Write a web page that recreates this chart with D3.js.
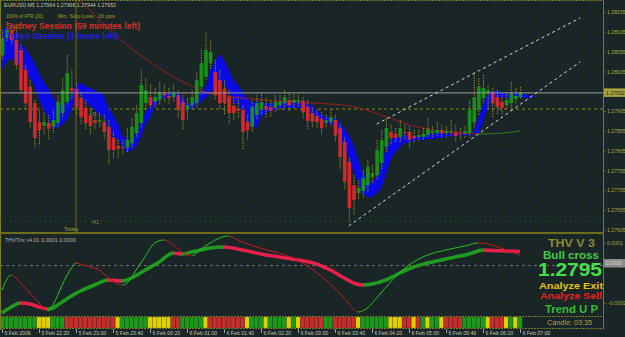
<!DOCTYPE html>
<html>
<head>
<meta charset="utf-8">
<script src="https://cdn.jsdelivr.net/npm/d3@7"></script>
<style>
  html, body { margin: 0; padding: 0; background: #1a2525; overflow: hidden; }
  svg { display: block; }
  text { font-family: "Liberation Sans", Arial, sans-serif; }
</style>
</head>
<body>
<script>
// EURUSD M5 candles, bar 0 = 5 Feb 21:40, bar 112 = 6 Feb 07:00
var opens = [1.28046,1.28089,1.28110,1.28084,1.28059,1.28009,1.27966,1.27925,1.27877,1.27867,
  1.27875,1.27865,1.27875,1.27900,1.27928,1.27963,1.27961,1.27938,1.27913,1.27895,
  1.27882,1.27877,1.27877,1.27865,1.27837,1.27817,1.27814,1.27812,1.27824,1.27849,
  1.27875,1.27925,1.27940,1.27928,1.27933,1.27950,1.27943,1.27940,1.27945,1.27928,
  1.27908,1.27920,1.27925,1.27966,1.27991,1.28026,1.28003,1.27983,1.27961,1.27940,
  1.27918,1.27910,1.27908,1.27877,1.27865,1.27895,1.27908,1.27918,1.27915,1.27913,
  1.27920,1.27925,1.27933,1.27925,1.27928,1.27930,1.27915,1.27900,1.27892,1.27885,
  1.27875,1.27877,1.27882,1.27862,1.27827,1.27776,1.27718,1.27698,1.27703,1.27718,
  1.27738,1.27743,1.27774,1.27814,1.27852,1.27847,1.27839,1.27852,1.27852,1.27842,
  1.27839,1.27839,1.27844,1.27849,1.27849,1.27857,1.27849,1.27852,1.27852,1.27849,
  1.27849,1.27849,1.27877,1.27908,1.27938,1.27950,1.27953,1.27940,1.27928,1.27920,
  1.27925,1.27935,1.27940];
var highs = [1.28110,1.28130,1.28122,1.28122,1.28072,1.28021,1.27983,1.27933,1.27908,1.27902,
  1.27895,1.27908,1.27945,1.27988,1.28046,1.28009,1.27978,1.27953,1.27933,1.27913,
  1.27902,1.27900,1.27895,1.27882,1.27852,1.27832,1.27832,1.27862,1.27887,1.27920,
  1.28009,1.27988,1.27971,1.27963,1.27978,1.27971,1.27963,1.27971,1.27958,1.27945,
  1.27938,1.27958,1.28003,1.28059,1.28102,1.28084,1.28034,1.28009,1.27983,1.27958,
  1.27938,1.27933,1.27920,1.27895,1.27933,1.27945,1.27953,1.27938,1.27933,1.27945,
  1.27945,1.27958,1.27953,1.27948,1.27945,1.27940,1.27933,1.27913,1.27908,1.27902,
  1.27895,1.27908,1.27895,1.27872,1.27837,1.27786,1.27743,1.27731,1.27756,1.27781,
  1.27769,1.27832,1.27857,1.27887,1.27870,1.27862,1.27882,1.27870,1.27867,1.27857,
  1.27857,1.27862,1.27887,1.27867,1.27877,1.27870,1.27867,1.27882,1.27870,1.27862,
  1.27867,1.27933,1.28003,1.27988,1.27996,1.27971,1.27963,1.27958,1.27945,1.27953,
  1.27978,1.27963,1.27966];
var lows = [1.28034,1.28079,1.28072,1.28009,1.27945,1.27908,1.27862,1.27812,1.27819,1.27844,
  1.27832,1.27849,1.27862,1.27887,1.27918,1.27933,1.27895,1.27870,1.27857,1.27844,
  1.27857,1.27862,1.27832,1.27769,1.27786,1.27786,1.27794,1.27801,1.27812,1.27837,
  1.27862,1.27908,1.27908,1.27913,1.27920,1.27928,1.27923,1.27928,1.27887,1.27857,
  1.27882,1.27908,1.27913,1.27953,1.27983,1.28009,1.27933,1.27908,1.27895,1.27870,
  1.27882,1.27887,1.27807,1.27832,1.27852,1.27882,1.27895,1.27887,1.27890,1.27900,
  1.27908,1.27913,1.27902,1.27913,1.27915,1.27887,1.27857,1.27862,1.27862,1.27844,
  1.27862,1.27867,1.27827,1.27756,1.27706,1.27625,1.27642,1.27680,1.27685,1.27700,
  1.27723,1.27731,1.27756,1.27801,1.27819,1.27827,1.27827,1.27832,1.27812,1.27824,
  1.27829,1.27832,1.27837,1.27839,1.27842,1.27837,1.27839,1.27842,1.27827,1.27832,
  1.27837,1.27837,1.27862,1.27895,1.27925,1.27908,1.27887,1.27895,1.27895,1.27908,
  1.27913,1.27923,1.27936];
var closes = [1.28089,1.28110,1.28084,1.28021,1.27958,1.27925,1.27877,1.27837,1.27857,1.27877,
  1.27860,1.27882,1.27928,1.27958,1.28001,1.27956,1.27913,1.27890,1.27875,1.27867,
  1.27875,1.27882,1.27852,1.27807,1.27807,1.27809,1.27812,1.27832,1.27865,1.27900,
  1.27971,1.27958,1.27920,1.27940,1.27953,1.27945,1.27938,1.27950,1.27908,1.27882,
  1.27920,1.27940,1.27983,1.28026,1.28059,1.28054,1.27945,1.27925,1.27925,1.27900,
  1.27900,1.27905,1.27852,1.27857,1.27915,1.27925,1.27928,1.27908,1.27905,1.27928,
  1.27928,1.27940,1.27920,1.27933,1.27933,1.27902,1.27880,1.27877,1.27877,1.27862,
  1.27882,1.27890,1.27844,1.27789,1.27726,1.27660,1.27680,1.27711,1.27736,1.27764,
  1.27748,1.27807,1.27832,1.27862,1.27837,1.27837,1.27862,1.27849,1.27832,1.27837,
  1.27844,1.27847,1.27860,1.27855,1.27857,1.27849,1.27855,1.27855,1.27842,1.27847,
  1.27855,1.27908,1.27940,1.27966,1.27963,1.27958,1.27925,1.27915,1.27913,1.27933,
  1.27950,1.27943,1.27952];

// blue ribbon (shifted 3 bars forward)
var bandUpper = [1.28110,1.28115,1.28105,1.28084,1.28072,1.28064,1.28046,1.28029,1.28001,1.27978,
  1.27963,1.27940,1.27920,1.27920,1.27925,1.27945,1.27973,1.27976,1.27968,1.27963,
  1.27958,1.27953,1.27945,1.27913,1.27895,1.27875,1.27844,1.27832,1.27837,1.27849,
  1.27875,1.27902,1.27920,1.27940,1.27945,1.27948,1.27950,1.27953,1.27953,1.27940,
  1.27923,1.27923,1.27933,1.27953,1.27963,1.28009,1.28029,1.28049,1.28034,1.28009,
  1.27983,1.27971,1.27953,1.27938,1.27928,1.27928,1.27928,1.27925,1.27925,1.27925,
  1.27928,1.27930,1.27933,1.27933,1.27930,1.27928,1.27923,1.27918,1.27908,1.27897,
  1.27890,1.27890,1.27887,1.27877,1.27862,1.27844,1.27819,1.27781,1.27751,1.27726,
  1.27726,1.27738,1.27764,1.27812,1.27832,1.27839,1.27844,1.27844,1.27844,1.27842,
  1.27842,1.27844,1.27847,1.27849,1.27849,1.27849,1.27849,1.27849,1.27849,1.27849,
  1.27849,1.27849,1.27852,1.27887,1.27920,1.27948,1.27956,1.27956,1.27953,1.27950,
  1.27950,1.27950,1.27950,1.27948,1.27945,1.27943];
var bandLower = [1.28009,1.28029,1.28039,1.28029,1.28019,1.28009,1.27988,1.27968,1.27933,1.27908,
  1.27887,1.27862,1.27862,1.27870,1.27882,1.27908,1.27953,1.27945,1.27928,1.27918,
  1.27908,1.27897,1.27887,1.27862,1.27844,1.27832,1.27814,1.27801,1.27807,1.27814,
  1.27839,1.27872,1.27887,1.27915,1.27933,1.27938,1.27940,1.27940,1.27935,1.27915,
  1.27908,1.27910,1.27918,1.27928,1.27938,1.27950,1.27963,1.27983,1.27971,1.27958,
  1.27928,1.27920,1.27902,1.27877,1.27865,1.27862,1.27890,1.27900,1.27905,1.27908,
  1.27913,1.27913,1.27913,1.27913,1.27913,1.27913,1.27905,1.27900,1.27890,1.27880,
  1.27875,1.27872,1.27865,1.27842,1.27812,1.27786,1.27751,1.27723,1.27698,1.27688,
  1.27688,1.27698,1.27711,1.27743,1.27781,1.27801,1.27814,1.27824,1.27827,1.27829,
  1.27832,1.27832,1.27834,1.27834,1.27837,1.27837,1.27839,1.27842,1.27842,1.27844,
  1.27844,1.27844,1.27847,1.27849,1.27877,1.27913,1.27935,1.27940,1.27940,1.27938,
  1.27935,1.27935,1.27938,1.27938,1.27938,1.27938];

// slow moving average, read at a few bars
var maBars = [15,18,22,26,32,36,40,44,52,60,64,70,74,78,82,84,88,92,96,100,103,108,112];
var maValues = [1.28198,1.28170,1.28125,1.28082,1.28029,1.27998,1.27973,1.27953,1.27938,1.27930,
  1.27928,1.27923,1.27920,1.27910,1.27895,1.27887,1.27870,1.27860,1.27852,1.27849,1.27847,1.27849,1.27855];
var maTurnBar = 103;

var currentPrice = 1.27952;
var dashLevel = 1.27910;
var lowLevel = 1.27627;
var todayBar = 16;

var trendStartBars = [75, 81];
var trendStartPrices = [1.27615, 1.27872];
var trendEndBars = [125, 125];
var trendEndPrices = [1.28029, 1.28140];

var priceTicks = [1.28155,1.28105,1.28055,1.28005,1.27905,1.27855,1.27805,1.27755,1.27705,1.27655,1.27605];
var timeTickBars = [0,8,16,24,32,40,48,56,64,72,80,88,96,104,112];
var timeLabels = ["5 Feb 2009","5 Feb 22:20","5 Feb 23:00","5 Feb 23:40","6 Feb 00:20","6 Feb 01:00",
  "6 Feb 01:40","6 Feb 02:20","6 Feb 03:00","6 Feb 03:40","6 Feb 04:20","6 Feb 05:00",
  "6 Feb 05:40","6 Feb 06:20","6 Feb 07:00"];

// THVTrix sub window
var thinBars = [0,2,4,6,8,10,11,13,15,16,17,19,21,23,26,27,29,31,33,35,37,40,41,43,45,47,49,51,55,59,
  63,66,70,74,77,79,81,84,88,92,96,100,103,106,109,112];
var thinValues = [-0.000135,-0.00006,-0.0001,-0.00015,-0.0002,-0.00024,-0.00021,-0.00011,-0.000025,0,
  -0.000005,-0.00002,-0.000035,-0.000075,-0.00011,-0.0001,-0.000035,0.000035,0.0001,0.000115,
  0.00009,0.00004,0.000035,0.00007,0.0001,0.000125,0.000135,0.000115,0.00008,0.000055,
  0.000025,-0.000015,-0.000085,-0.000175,-0.000245,-0.000225,-0.000175,-0.000095,-0.00001,0.00004,
  0.000065,0.000085,0.0001,0.00009,0.000065,0.00004];
var thickBars = [0,2,4,6,8,10,11,13,15,17,20,23,26,28,31,34,37,39,41,43,45,48,52,56,60,64,68,71,74,76,
  78,80,83,86,89,92,95,98,101,104,106,109,112];
var thickValues = [-0.00025,-0.00022,-0.0002,-0.000205,-0.00022,-0.00023,-0.000225,-0.000195,-0.000165,-0.00014,
  -0.00011,-0.000085,-0.00009,-0.000075,-0.000035,0.000005,0.00005,0.000045,0.000055,0.000065,
  0.000075,0.00008,0.000065,0.000045,0.00003,0.000015,-0.000005,-0.000035,-0.000075,-0.0001,
  -0.00011,-0.000105,-0.000085,-0.00005,-0.00002,0,0.000015,0.00003,0.000045,0.000065,
  0.0000625,0.00006,0.0000575];
var subTicks = [0.0001, -0.0002];
var subCurrent = 0;

// trend colour bar, one letter per bar
var barColors = ("GGGGGGGG" + "YYY" + "GGG" + "RRRRRRRRRRR" + "Y" + "GGGGGG" + "YYYYY" + "RR" + "GGGGG" + "Y" +
  "RRRRRRRR" + "Y" + "GGG" + "Y" + "GGGG" + "Y" + "G" + "Y" + "RRRRR" + "GG" + "RRRRR" + "Y" + "GGGGGG" +
  "YYY" + "RR" + "Y" + "R" + "G" + "Y" + "GG" + "Y" + "RRRR" + "GGGGG" + "Y" + "RRR" + "Y" + "G" + "Y" + "G").split("");

var width = 625, height = 337, axisX = 603;
var olive = "#7a7a18";

var x = d3.scaleLinear().domain([0, 112]).range([2, 520]);
var y = d3.scaleLinear().domain([1.27605, 1.28155]).range([229.8, 12]);
var ySub = d3.scaleLinear().domain([-0.00025, 0.00015]).range([313, 233]);

var svg = d3.select("body").append("svg")
    .attr("width", width)
    .attr("height", height);
var defs = svg.append("defs");

defs.append("clipPath").attr("id", "clipMain").append("rect")
    .attr("x", 0).attr("y", 0).attr("width", axisX).attr("height", 232);
defs.append("clipPath").attr("id", "clipSub").append("rect")
    .attr("x", 0).attr("y", 234).attr("width", axisX).attr("height", 81);

var pat = defs.append("pattern").attr("id", "dots")
    .attr("patternUnits", "userSpaceOnUse").attr("width", 29).attr("height", 21);
[[3,4],[17,2],[25,11],[10,12],[20,18],[6,19]].forEach(function(p) {
    pat.append("rect").attr("x", p[0]).attr("y", p[1]).attr("width", 1).attr("height", 1).attr("fill", "#18196e");
});

function slopeGradient(id, bars, vals, up, down) {
    var g = defs.append("linearGradient").attr("id", id)
        .attr("gradientUnits", "userSpaceOnUse")
        .attr("x1", 0).attr("x2", width).attr("y1", 0).attr("y2", 0);
    for (var i = 0; i < bars.length - 1; i++) {
        var c = vals[i + 1] >= vals[i] ? up : down;
        g.append("stop").attr("offset", x(bars[i]) / width).attr("stop-color", c);
        g.append("stop").attr("offset", x(bars[i + 1]) / width).attr("stop-color", c);
    }
}
slopeGradient("gThick", thickBars, thickValues, "#1f9b1f", "#e8204c");
slopeGradient("gThin", thinBars, thinValues, "#22c422", "#c8181c");

var gMa = defs.append("linearGradient").attr("id", "gMa")
    .attr("gradientUnits", "userSpaceOnUse")
    .attr("x1", 0).attr("x2", width).attr("y1", 0).attr("y2", 0);
gMa.append("stop").attr("offset", x(maTurnBar) / width).attr("stop-color", "#9a1c1c");
gMa.append("stop").attr("offset", x(maTurnBar) / width).attr("stop-color", "#2a7e2a");

// background
svg.append("rect").attr("width", width).attr("height", height).attr("fill", "#1a2525");
svg.append("rect").attr("width", width).attr("height", 330).attr("fill", "url(#dots)");

// ---------- main window ----------
var main = svg.append("g").attr("clip-path", "url(#clipMain)");

main.append("line")
    .attr("x1", 0).attr("x2", axisX)
    .attr("y1", y(dashLevel)).attr("y2", y(dashLevel))
    .attr("stroke", "#8a8a22").attr("stroke-dasharray", "3,3");
main.append("line")
    .attr("x1", 0).attr("x2", axisX)
    .attr("y1", y(lowLevel)).attr("y2", y(lowLevel))
    .attr("stroke", "#1f6a1f").attr("stroke-dasharray", "1,4");
main.append("line")
    .attr("x1", x(todayBar)).attr("x2", x(todayBar))
    .attr("y1", 0).attr("y2", 232)
    .attr("stroke", "#6e6e16");

var band = d3.area()
    .x(function(d, i) { return x(i); })
    .y0(function(d, i) { return y(bandLower[i]); })
    .y1(function(d) { return y(d); });
main.append("path").datum(bandUpper)
    .attr("d", band)
    .attr("fill", "#0a0ae4");

var maLine = d3.line()
    .x(function(d, i) { return x(maBars[i]); })
    .y(function(d) { return y(d); })
    .curve(d3.curveMonotoneX);
main.append("path").datum(maValues)
    .attr("d", maLine)
    .attr("fill", "none")
    .attr("stroke", "url(#gMa)")
    .attr("stroke-width", 1);

var idx = d3.range(opens.length);
main.selectAll(".wick").data(idx).enter().append("line")
    .attr("class", "wick")
    .attr("x1", function(i) { return x(i) + 0.5; })
    .attr("x2", function(i) { return x(i) + 0.5; })
    .attr("y1", function(i) { return y(highs[i]); })
    .attr("y2", function(i) { return y(lows[i]); })
    .attr("stroke", "#8c8c20")
    .attr("stroke-dasharray", "1.5,1");
main.selectAll(".body").data(idx).enter().append("rect")
    .attr("class", "body")
    .attr("x", function(i) { return x(i) - 1.3; })
    .attr("width", 3.6)
    .attr("y", function(i) { return y(Math.max(opens[i], closes[i])); })
    .attr("height", function(i) { return Math.max(1, Math.abs(y(opens[i]) - y(closes[i]))); })
    .attr("fill", function(i) { return closes[i] >= opens[i] ? "#179017" : "#cf2a2e"; });

main.append("line")
    .attr("x1", 0).attr("x2", axisX)
    .attr("y1", y(currentPrice) + 0.5).attr("y2", y(currentPrice) + 0.5)
    .attr("stroke", "#9c9c9c");

trendStartBars.forEach(function(b, i) {
    main.append("line")
        .attr("x1", x(b)).attr("y1", y(trendStartPrices[i]))
        .attr("x2", x(trendEndBars[i])).attr("y2", y(trendEndPrices[i]))
        .attr("stroke", "#d8d8d8").attr("stroke-dasharray", "3,3");
});

// labels on the main window
svg.append("text").attr("x", 4).attr("y", 7).attr("font-size", 5.3).attr("fill", "#c4c4a4")
    .attr("textLength", 112).attr("lengthAdjust", "spacingAndGlyphs")
    .text("EURUSD,M5  1.27964 1.27966 1.27944 1.27952");
svg.append("text").attr("x", 6).attr("y", 18).attr("font-size", 5.3).attr("fill", "#a4a424")
    .attr("textLength", 37).attr("lengthAdjust", "spacingAndGlyphs")
    .text("100% of ATR (20)");
svg.append("text").attr("x", 58).attr("y", 18).attr("font-size", 5.3).attr("fill", "#a4a424")
    .attr("textLength", 57).attr("lengthAdjust", "spacingAndGlyphs")
    .text("Min. Stop Loss :   16 pips");
svg.append("text").attr("x", 6).attr("y", 29).attr("font-size", 8.5).attr("font-weight", "bold")
    .attr("fill", "#d8302c").attr("textLength", 134).attr("lengthAdjust", "spacingAndGlyphs")
    .text("Sydney Session (59 minutes left)");
svg.append("text").attr("x", 6).attr("y", 39).attr("font-size", 8.5).attr("font-weight", "bold")
    .attr("fill", "#1e1ee6").attr("textLength", 112).attr("lengthAdjust", "spacingAndGlyphs")
    .text("Tokyo Session (3 hours left)");
svg.append("text").attr("x", 90).attr("y", 116).attr("font-size", 5.5).attr("fill", "#7c7c5a").text("H1");
svg.append("text").attr("x", 92).attr("y", 224).attr("font-size", 5.5).attr("fill", "#8c8c3a").text("H1");
svg.append("text").attr("x", 64).attr("y", 231).attr("font-size", 5.5).attr("fill", "#a0a040").text("Today");

// ---------- sub window ----------
var sub = svg.append("g").attr("clip-path", "url(#clipSub)");
sub.append("line")
    .attr("x1", 0).attr("x2", axisX)
    .attr("y1", ySub(0) + 2.5).attr("y2", ySub(0) + 2.5)
    .attr("stroke", "#6c6c6c").attr("stroke-dasharray", "3,3");

var subLine = function(bars) {
    return d3.line()
        .x(function(d, i) { return x(bars[i]); })
        .y(function(d) { return ySub(d); })
        .curve(d3.curveMonotoneX);
};
sub.append("path").datum(thickValues)
    .attr("d", subLine(thickBars))
    .attr("fill", "none").attr("stroke", "url(#gThick)").attr("stroke-width", 3.5);
sub.append("path").datum(thinValues)
    .attr("d", subLine(thinBars))
    .attr("fill", "none").attr("stroke", "url(#gThin)").attr("stroke-width", 1);

svg.append("text").attr("x", 5).attr("y", 242).attr("font-size", 5.3).attr("fill", "#b4b4b4")
    .attr("textLength", 71).attr("lengthAdjust", "spacingAndGlyphs")
    .text("THVTrix v4.01 0.0001 0.0000");

// colour bar
var colorMap = {G: "#1d9a1d", Y: "#e2d000", R: "#c4302c"};
svg.selectAll(".cb").data(barColors).enter().append("rect")
    .attr("class", "cb")
    .attr("x", function(d, i) { return x(i) - 2.31; })
    .attr("y", 317)
    .attr("width", 4.625)
    .attr("height", 11)
    .attr("fill", function(d) { return colorMap[d]; })
    .attr("stroke", "rgba(0,0,0,0.3)")
    .attr("stroke-width", 0.5);

// frame lines
svg.append("line").attr("x1", 0).attr("x2", axisX).attr("y1", 0.5).attr("y2", 0.5)
    .attr("stroke", olive).attr("stroke-dasharray", "2,1");
svg.append("line").attr("x1", 0.5).attr("x2", 0.5).attr("y1", 0).attr("y2", 330).attr("stroke", olive);
svg.append("rect").attr("x", 0).attr("y", 232).attr("width", axisX).attr("height", 2).attr("fill", "#6e6e18");
svg.append("line").attr("x1", 0).attr("x2", axisX).attr("y1", 316.5).attr("y2", 316.5)
    .attr("stroke", olive).attr("stroke-dasharray", "2,1");
svg.append("line").attr("x1", 0).attr("x2", axisX).attr("y1", 328.5).attr("y2", 328.5)
    .attr("stroke", olive).attr("stroke-dasharray", "2,1");

// ---------- axes ----------
var yAxis = svg.append("g")
    .attr("transform", "translate(" + (axisX + 0.5) + ",0)")
    .call(d3.axisRight(y).tickValues(priceTicks).tickFormat(d3.format(".5f")).tickSize(2).tickPadding(1.5));
yAxis.select(".domain").attr("stroke", olive).attr("d", "M0,0V330");
yAxis.selectAll("line").attr("stroke", olive);
yAxis.selectAll("text").attr("font-size", 5.2).attr("fill", "#a8a83a")
    .attr("font-family", "Liberation Sans, Arial, sans-serif");

var cy = y(currentPrice);
svg.append("rect").attr("x", axisX + 1).attr("y", cy - 4).attr("width", 22).attr("height", 8.5).attr("fill", "#a4a43c");
svg.append("text").attr("x", axisX + 3).attr("y", cy + 2.2).attr("font-size", 5.2).attr("fill", "#2a2a10")
    .text(d3.format(".5f")(currentPrice));

var subAxis = svg.append("g")
    .attr("transform", "translate(" + (axisX + 0.5) + ",0)")
    .call(d3.axisRight(ySub).tickValues(subTicks).tickFormat(d3.format(".4f")).tickSize(2).tickPadding(1.5));
subAxis.select(".domain").remove();
subAxis.selectAll("line").attr("stroke", olive);
subAxis.selectAll("text").attr("font-size", 5.2).attr("fill", "#a8a83a")
    .attr("font-family", "Liberation Sans, Arial, sans-serif");
var sy = ySub(subCurrent);
svg.append("rect").attr("x", axisX + 1).attr("y", sy - 4).attr("width", 22).attr("height", 8.5).attr("fill", "#8a8a8a");
svg.append("text").attr("x", axisX + 3).attr("y", sy + 2.2).attr("font-size", 5.2).attr("fill", "#d8d8d8")
    .text(d3.format(".4f")(subCurrent));

var xAxis = svg.append("g")
    .attr("transform", "translate(0,329)")
    .call(d3.axisBottom(x).tickValues(timeTickBars).tickSize(4)
        .tickFormat(function(d, i) { return timeLabels[i]; }));
xAxis.select(".domain").remove();
xAxis.selectAll("line").attr("stroke", "#a0a0a0");
xAxis.selectAll("text")
    .attr("text-anchor", "start").attr("x", 2).attr("y", 2).attr("dy", "0.71em")
    .attr("font-size", 5.2).attr("fill", "#c4c4b0")
    .attr("font-family", "Liberation Sans, Arial, sans-serif");

// ---------- signal panel ----------
function panelText(txt, cx, by, size, len, color, bold) {
    svg.append("text")
        .attr("x", cx).attr("y", by)
        .attr("text-anchor", "middle")
        .attr("font-size", size)
        .attr("font-weight", bold ? "bold" : "normal")
        .attr("fill", color)
        .attr("textLength", len).attr("lengthAdjust", "spacingAndGlyphs")
        .text(txt);
}
panelText("THV V 3", 571.5, 247, 11, 47, "#8e8e2a", true);
panelText("Bull cross", 571, 258.5, 10.5, 56, "#44cc44", true);
panelText("1.2795", 570, 276, 18, 64, "#44e044", true);
panelText("Analyze Exit", 571, 288.5, 9.5, 64, "#e8c400", true);
panelText("Analyze Sell", 571, 298.5, 9.5, 62, "#f01c1c", true);
panelText("Trend U P", 571.5, 313, 11, 53, "#2ec02e", true);
panelText("Candle:  03:35", 569.5, 325, 7, 45, "#c8963c", false);
</script>
</body>
</html>
